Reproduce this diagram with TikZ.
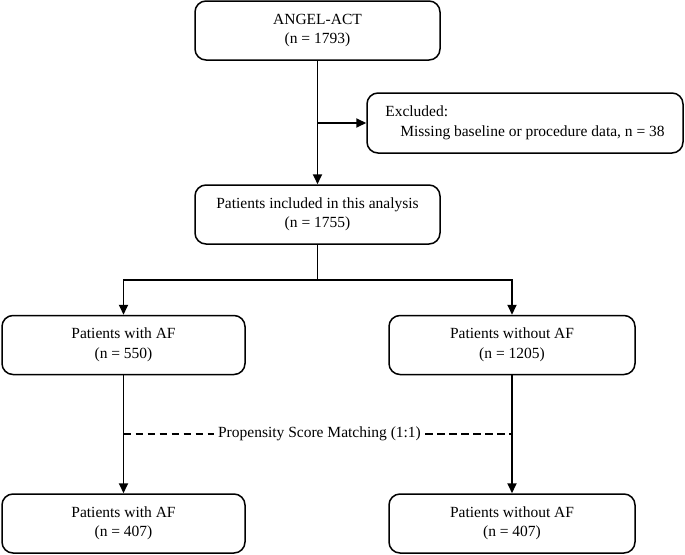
\documentclass[tikz,border=0pt]{standalone}
\usepackage{fontspec}
\setmainfont{Liberation Serif}
\usetikzlibrary{arrows.meta}
\begin{document}
\begin{tikzpicture}[x=1pt,y=-1pt,
  box/.style={draw, line width=1.5pt, rounded corners=11pt, minimum width=245pt, minimum height=59pt, align=center, font=\fontsize{15.5}{19.5}\selectfont, inner sep=2pt},
  arr/.style={line width=1.8pt, -{Triangle[length=10pt,width=9pt]}},
  ln/.style={line width=1.8pt},
  dsh/.style={line width=1.6pt, dash pattern=on 7.5pt off 4.5pt}]
\useasboundingbox (0,0) rectangle (685,554);
\node[box] (top) at (317.5,30.5) {ANGEL-ACT\\(n = 1793)};
\node[box, minimum width=316pt, minimum height=60pt, align=left] (excl) at (525,123) {Excluded:\\\hspace{15pt}Missing baseline or procedure data, n = 38};
\node[box] (mid) at (317.5,214.5) {Patients included in this analysis\\(n = 1755)};
\node[box, minimum width=243pt] (left) at (123.5,345) {Patients with AF\\(n = 550)};
\node[box, minimum width=246pt] (right) at (512,345) {Patients without AF\\(n = 1205)};
\node[box, minimum width=243pt] (bl) at (123.5,523.5) {Patients with AF\\(n = 407)};
\node[box, minimum width=246pt] (br) at (512,523.5) {Patients without AF\\(n = 407)};
\node[font=\fontsize{15.5}{19.5}\selectfont, inner sep=4pt] (psm) at (319.5,434) {Propensity Score Matching (1:1)};
\coordinate (ex) at (317.5,123);
\draw[arr] (top.south) -- (mid.north);
\draw[arr] (ex) -- (excl.west);
\draw[ln] (mid.south) -- (317.5,280) coordinate (split);
\draw[arr, rounded corners=0pt] (split) -| (left.north);
\draw[arr, rounded corners=0pt] (split) -| (right.north);
\draw[arr] (left.south) -- (bl.north);
\draw[arr] (right.south) -- (br.north);
\draw[dsh] (left.south |- psm) -- (psm.west);
\draw[dsh] (psm.east) -- (right.south |- psm);
\end{tikzpicture}
\end{document}
